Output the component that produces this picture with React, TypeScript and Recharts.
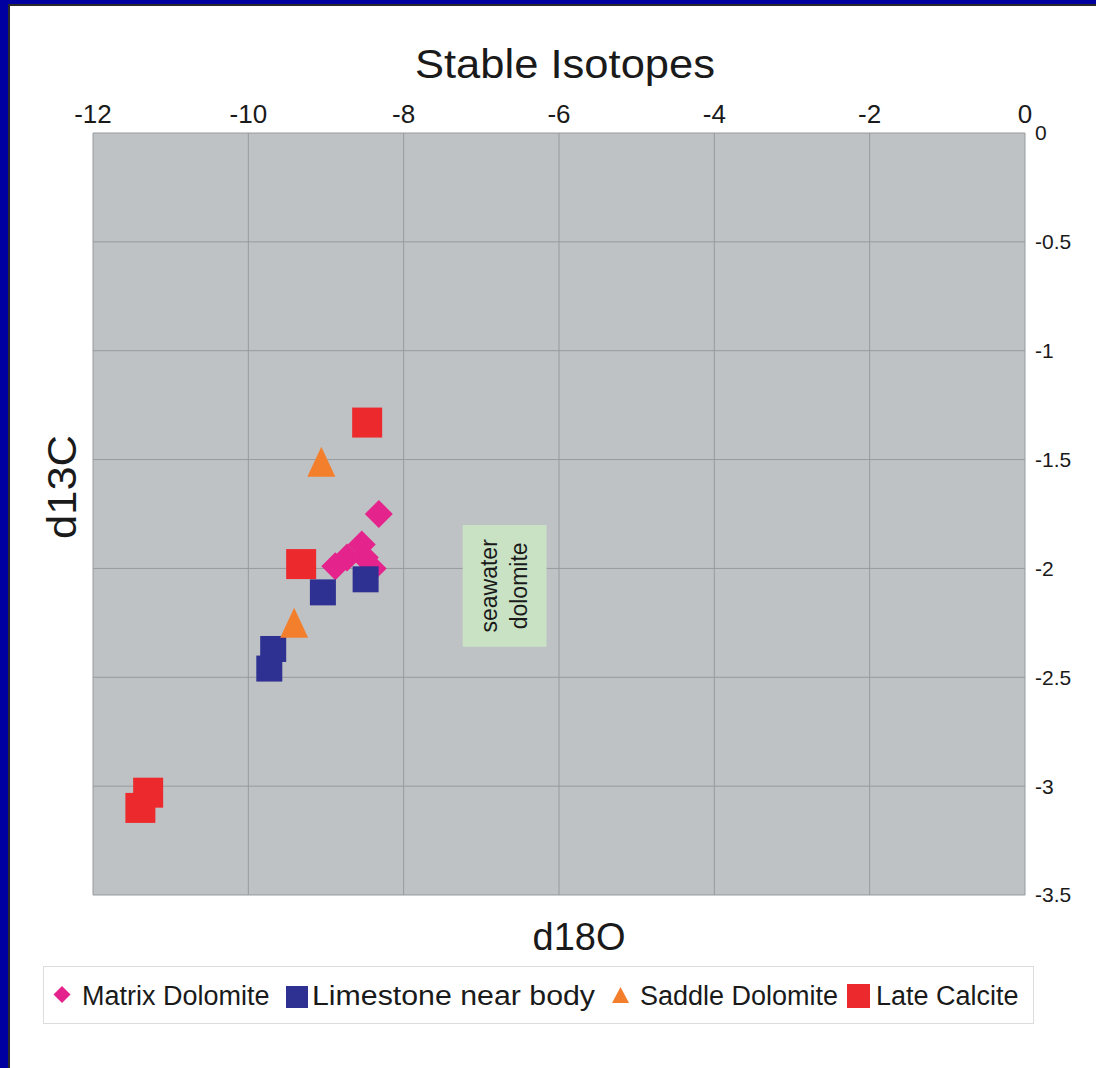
import React from 'react';
import { ScatterChart, Scatter, XAxis, YAxis, CartesianGrid, ReferenceArea } from 'recharts';

const FONT = '"Liberation Sans", Arial, Helvetica, sans-serif';

const title = 'Stable Isotopes';
const xLabel = 'd18O';
const yLabel = 'd13C';
const boxText = ['seawater', 'dolomite'];

const xTicks = [-12, -10, -8, -6, -4, -2, 0];
const yTicks = [0, -0.5, -1, -1.5, -2, -2.5, -3, -3.5];

const seriesNames = ['Matrix Dolomite', 'Limestone near body', 'Saddle Dolomite', 'Late Calcite'];

const matrixDolomite = [
  { x: -8.32, y: -1.75 },
  { x: -8.54, y: -1.89 },
  { x: -8.5, y: -1.95 },
  { x: -8.73, y: -1.95 },
  { x: -8.88, y: -1.99 },
  { x: -8.4, y: -2.0 },
];

const limestoneNearBody = [
  { x: -8.49, y: -2.05 },
  { x: -9.04, y: -2.11 },
  { x: -9.68, y: -2.37 },
  { x: -9.73, y: -2.46 },
];

const saddleDolomite = [
  { x: -9.06, y: -1.51 },
  { x: -9.41, y: -2.25 },
];

const lateCalcite = [
  { x: -8.47, y: -1.33 },
  { x: -9.32, y: -1.98 },
  { x: -11.29, y: -3.03 },
  { x: -11.39, y: -3.1 },
];

const seawaterBox = { x1: -7.24, x2: -6.16, y1: -1.8, y2: -2.36 };

const COLORS = {
  matrix: '#E5238C',
  limestone: '#2E3192',
  saddle: '#F37F2C',
  calcite: '#EC2A2D',
};

const diamondShape = (color: string, r: number) => (props: any) => {
  const { cx, cy } = props;
  if (cx == null || cy == null) return <g />;
  return (
    <polygon
      points={`${cx},${cy - r} ${cx + r},${cy} ${cx},${cy + r} ${cx - r},${cy}`}
      fill={color}
    />
  );
};

const squareShape = (color: string, s: number) => (props: any) => {
  const { cx, cy } = props;
  if (cx == null || cy == null) return <g />;
  return <rect x={cx - s / 2} y={cy - s / 2} width={s} height={s} fill={color} />;
};

const triangleShape = (color: string, w: number, h: number) => (props: any) => {
  const { cx, cy } = props;
  if (cx == null || cy == null) return <g />;
  return (
    <polygon
      points={`${cx},${cy - h / 2} ${cx + w / 2},${cy + h / 2} ${cx - w / 2},${cy + h / 2}`}
      fill={color}
    />
  );
};

const SeawaterLabel = (props: any) => {
  const vb = props.viewBox || {};
  const cx = (vb.x ?? 0) + (vb.width ?? 0) / 2;
  const cy = (vb.y ?? 0) + (vb.height ?? 0) / 2;
  const lines = [
    { t: boxText[0], x: cx - 16 },
    { t: boxText[1], x: cx + 14 },
  ];
  return (
    <g>
      {lines.map((l) => (
        <text
          key={l.t}
          x={l.x}
          y={cy}
          transform={`rotate(-90 ${l.x} ${cy})`}
          textAnchor="middle"
          dominantBaseline="central"
          fontFamily={FONT}
          fontSize={23}
          fill="#1a1a1a"
        >
          {l.t}
        </text>
      ))}
    </g>
  );
};

export default function App() {
  return (
    <div
      style={{
        position: 'absolute',
        left: 0,
        top: 0,
        width: 1096,
        height: 1068,
        background: '#ffffff',
        overflow: 'hidden',
      }}
    >
      <ScatterChart
        width={1096}
        height={1068}
        margin={{ top: 93, right: 0, bottom: 173, left: 93 }}
      >
        <CartesianGrid fill="#BFC2C5" stroke="#979A9D" strokeWidth={1} />
        <XAxis
          type="number"
          dataKey="x"
          orientation="top"
          domain={[-12, 0]}
          ticks={xTicks}
          allowDataOverflow
          axisLine={false}
          tickLine={false}
          tickSize={6}
          tickMargin={4}
          height={40}
          tick={{ fontSize: 26, fill: '#1a1a1a', fontFamily: FONT }}
        />
        <YAxis
          type="number"
          dataKey="y"
          orientation="right"
          domain={[-3.5, 0]}
          ticks={yTicks}
          allowDataOverflow
          axisLine={false}
          tickLine={false}
          tickSize={6}
          tickMargin={4}
          width={71}
          tick={{ fontSize: 21, fill: '#1a1a1a', fontFamily: FONT }}
        />
        <ReferenceArea
          x1={seawaterBox.x1}
          x2={seawaterBox.x2}
          y1={seawaterBox.y1}
          y2={seawaterBox.y2}
          fill="#C9E2C4"
          fillOpacity={1}
          stroke="none"
          label={(p: any) => <SeawaterLabel {...p} />}
        />
        <Scatter
          name={seriesNames[0]}
          data={matrixDolomite}
          shape={diamondShape(COLORS.matrix, 14)}
          isAnimationActive={false}
        />
        <Scatter
          name={seriesNames[1]}
          data={limestoneNearBody}
          shape={squareShape(COLORS.limestone, 26)}
          isAnimationActive={false}
        />
        <Scatter
          name={seriesNames[2]}
          data={saddleDolomite}
          shape={triangleShape(COLORS.saddle, 28, 30)}
          isAnimationActive={false}
        />
        <Scatter
          name={seriesNames[3]}
          data={lateCalcite}
          shape={squareShape(COLORS.calcite, 30)}
          isAnimationActive={false}
        />
      </ScatterChart>
      <svg
        width={1096}
        height={1068}
        style={{ position: 'absolute', left: 0, top: 0, pointerEvents: 'none' }}
      >
        {/* frame */}
        <rect x={0} y={0} width={1096} height={4} fill="#0000A0" />
        <rect x={0} y={4} width={1096} height={2} fill="#2a2a2a" />
        <rect x={0} y={0} width={8} height={1068} fill="#0000A0" />
        <rect x={8} y={4} width={2} height={1064} fill="#2a2a2a" />
        {/* title */}
        <text
          x={565}
          y={78}
          textAnchor="middle"
          fontFamily={FONT}
          fontSize={40}
          fill="#1a1a1a"
          textLength={300}
          lengthAdjust="spacingAndGlyphs"
        >
          {title}
        </text>
        {/* axis labels */}
        <text x={579} y={950} textAnchor="middle" fontFamily={FONT} fontSize={38} fill="#1a1a1a">
          {xLabel}
        </text>
        <text
          x={76}
          y={487}
          transform={`rotate(-90 76 487)`}
          textAnchor="middle"
          fontFamily={FONT}
          fontSize={40}
          fill="#1a1a1a"
          textLength={104}
          lengthAdjust="spacingAndGlyphs"
        >
          {yLabel}
        </text>
        {/* legend */}
        <rect x={43.5} y={966.5} width={990} height={57} fill="#fff" stroke="#dcdcdc" strokeWidth={1} />
        <polygon points="62,986 70.5,994.5 62,1003 53.5,994.5" fill={COLORS.matrix} />
        <text x={82} y={1005} fontFamily={FONT} fontSize={27} fill="#1a1a1a">
          {seriesNames[0]}
        </text>
        <rect x={286} y={986} width={22} height={22} fill={COLORS.limestone} />
        <text
          x={312}
          y={1005}
          fontFamily={FONT}
          fontSize={27}
          fill="#1a1a1a"
          textLength={283}
          lengthAdjust="spacingAndGlyphs"
        >
          {seriesNames[1]}
        </text>
        <polygon points="620.5,987 629,1003 612,1003" fill={COLORS.saddle} />
        <text x={640} y={1005} fontFamily={FONT} fontSize={27} fill="#1a1a1a">
          {seriesNames[2]}
        </text>
        <rect x={847} y={984} width={23} height={24} fill={COLORS.calcite} />
        <text x={876} y={1005} fontFamily={FONT} fontSize={27} fill="#1a1a1a">
          {seriesNames[3]}
        </text>
      </svg>
    </div>
  );
}
